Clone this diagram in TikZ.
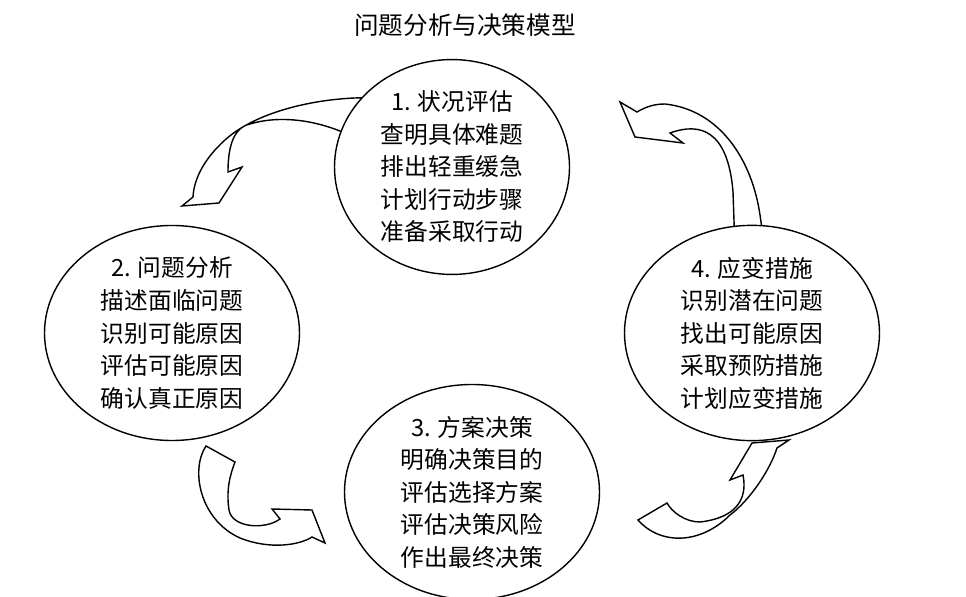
\documentclass[tikz,border=0pt]{standalone}
\usepackage{fontspec}
\setmainfont{Noto Sans CJK SC}
\usetikzlibrary{shapes.geometric}
\tikzset{
  stage/.style={ellipse,draw,thick,fill=white,inner sep=0pt,align=center,
    font=\fontsize{13.5}{18.5}\selectfont},
  turn/.style={draw,thick,line join=miter}
}
\begin{document}
\begin{tikzpicture}[x=0.02cm,y=-0.02cm]
  \useasboundingbox (0,0) rectangle (966,597);
  \node (title) at (465,25) {\fontsize{14}{16}\selectfont 问题分析与决策模型};
  % curved arrows between the stages
  \draw[turn] (375,98) .. controls (330,96) and (260,108) .. (225,140)
    .. controls (205,158) and (194,178) .. (193,197) -- (182,206)
    -- (219,203) -- (242,167) -- (228,172) .. controls (228,150) and (232,128) .. (250,124)
    .. controls (290,112) and (340,125) .. (375,150) -- cycle;
  \draw[turn] (765,250) -- (760,215) .. controls (752,160) and (720,110) .. (665,104)
    .. controls (652,104) and (644,108) .. (637,112) -- (620,102) -- (635,137)
    -- (683,143) -- (670,133) .. controls (700,122) and (728,130) .. (733,192)
    -- (735,250) -- cycle;
  \draw[turn] (206,446) .. controls (190,470) and (200,520) .. (240,538)
    .. controls (270,550) and (300,545) .. (312,537) -- (325,543) -- (312,510)
    -- (272,509) -- (280,519) .. controls (265,530) and (232,528) .. (229,510)
    .. controls (226,490) and (230,475) .. (235,462) -- cycle;
  \draw[turn] (638,520) .. controls (660,545) and (700,545) .. (730,515)
    .. controls (750,500) and (770,470) .. (777,448) -- (789,440) -- (752,443)
    -- (730,480) -- (743,475) .. controls (748,500) and (735,518) .. (700,522)
    .. controls (685,522) and (672,512) .. (667,503) -- cycle;
  % stages
  \node[stage,minimum width=235*0.02cm,minimum height=195*0.02cm] (assess) at (452,167)
    {1. 状况评估\\查明具体难题\\排出轻重缓急\\计划行动步骤\\准备采取行动};
  \node[stage,minimum width=255*0.02cm,minimum height=215*0.02cm] (analyse) at (172,333)
    {2. 问题分析\\描述面临问题\\识别可能原因\\评估可能原因\\确认真正原因};
  \node[stage,minimum width=255*0.02cm,minimum height=195*0.02cm] (decide) at (472,492)
    {3. 方案决策\\明确决策目的\\评估选择方案\\评估决策风险\\作出最终决策};
  \node[stage,minimum width=255*0.02cm,minimum height=195*0.02cm] (react) at (752,333)
    {4. 应变措施\\识别潜在问题\\找出可能原因\\采取预防措施\\计划应变措施};
\end{tikzpicture}
\end{document}
